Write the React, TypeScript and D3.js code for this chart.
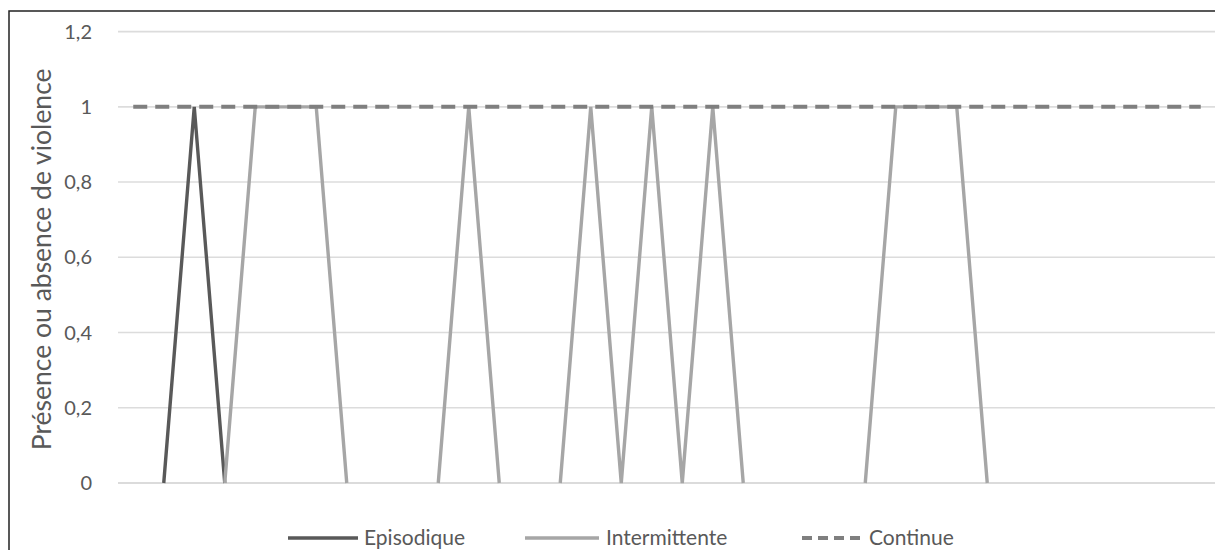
import React from 'react';
import * as d3 from 'd3';

// 36 periods, no labels on the x axis
const periods = d3.range(1, 37).map(String);

// null = no point for this series in that period
const episodique: (number | null)[] = [
    null, 0, 1, 0, null, null, null, null, null, null, null, null,
    null, null, null, null, null, null, null, null, null, null, null, null,
    null, null, null, null, null, null, null, null, null, null, null, null,
];

const intermittente: (number | null)[] = [
    null, null, null, 0, 1, 1, 1, 0, null, null, 0, 1,
    0, null, 0, 1, 0, 1, 0, 1, 0, null, null, null,
    0, 1, 1, 1, 0, null, null, null, null, null, null, null,
];

const continue_: (number | null)[] = periods.map(() => 1);

const yTicks = [0, 0.2, 0.4, 0.6, 0.8, 1, 1.2];

const series = [
    { name: 'Episodique', values: episodique, color: '#595959', width: 3.4, dash: undefined as string | undefined },
    { name: 'Intermittente', values: intermittente, color: '#a6a6a6', width: 3.4, dash: undefined as string | undefined },
    { name: 'Continue', values: continue_, color: '#7f7f7f', width: 4, dash: '14,8' },
];

const WIDTH = 1215,
    HEIGHT = 550;

const PLOT = {
    LEFT: 118,
    RIGHT: 1216,
    TOP: 31.6,
    BOTTOM: 483
};

const FONT = 'Lato, "Open Sans", sans-serif';

export default function App() {
    const x = d3.scalePoint<string>().domain(periods).range([PLOT.LEFT, PLOT.RIGHT]).padding(0.5);
    const y = d3.scaleLinear().domain([0, 1.2]).range([PLOT.BOTTOM, PLOT.TOP]);

    const fmt = (v: number) => String(+v.toFixed(1)).replace('.', ',');

    // legend swatch and label positions
    const legendItems = [
        { x1: 288, x2: 358, tx: 364 },
        { x1: 525, x2: 599, tx: 606 },
        { x1: 802, x2: 864, tx: 869 },
    ];

    return (
        <svg width={WIDTH} height={HEIGHT} style={{ position: 'absolute', left: 0, top: 0, background: '#fff' }}>
            <rect x={9} y={11} width={WIDTH + 10} height={HEIGHT + 10} fill='#fff' stroke='#222' strokeWidth={1.5} />

            {/* gridlines */}
            <g>
                {yTicks.map(t => (
                    <line key={t} x1={PLOT.LEFT} x2={PLOT.RIGHT} y1={y(t)} y2={y(t)}
                        stroke={t === 0 ? '#cfcfcf' : '#dcdcdc'} strokeWidth={1.6} />
                ))}
            </g>

            {/* y tick labels */}
            <g fontFamily={FONT} fontSize={20} fill='#595959' textAnchor='end'>
                {yTicks.map(t => (
                    <text key={t} x={92} y={y(t)} dy='0.35em'>{fmt(t)}</text>
                ))}
            </g>

            <text transform={`translate(51,${(PLOT.TOP + PLOT.BOTTOM) / 2 + 2}) rotate(-90)`} textAnchor='middle'
                fontFamily={FONT} fontSize={26.5} fill='#595959'>Présence ou absence de violence</text>

            {/* series */}
            <g>
                {series.map(s => {
                    const line = d3.line<number | null>()
                        .defined(v => v !== null)
                        .x((_, i) => x(periods[i]) as number)
                        .y(v => y(v as number));
                    return <path key={s.name} d={line(s.values) || ''} fill='none' stroke={s.color}
                        strokeWidth={s.width} strokeDasharray={s.dash} strokeLinejoin='miter' />;
                })}
            </g>

            {/* legend */}
            <g fontFamily={FONT} fontSize={21} fill='#595959'>
                {series.map((s, i) => {
                    const l = legendItems[i];
                    return (
                        <g key={s.name}>
                            <line x1={l.x1} x2={l.x2} y1={538} y2={538} stroke={s.color} strokeWidth={s.width}
                                strokeDasharray={s.dash ? '10,6' : undefined} />
                            <text x={l.tx} y={538} dy='0.35em'>{s.name}</text>
                        </g>
                    );
                })}
            </g>
        </svg>
    );
}
